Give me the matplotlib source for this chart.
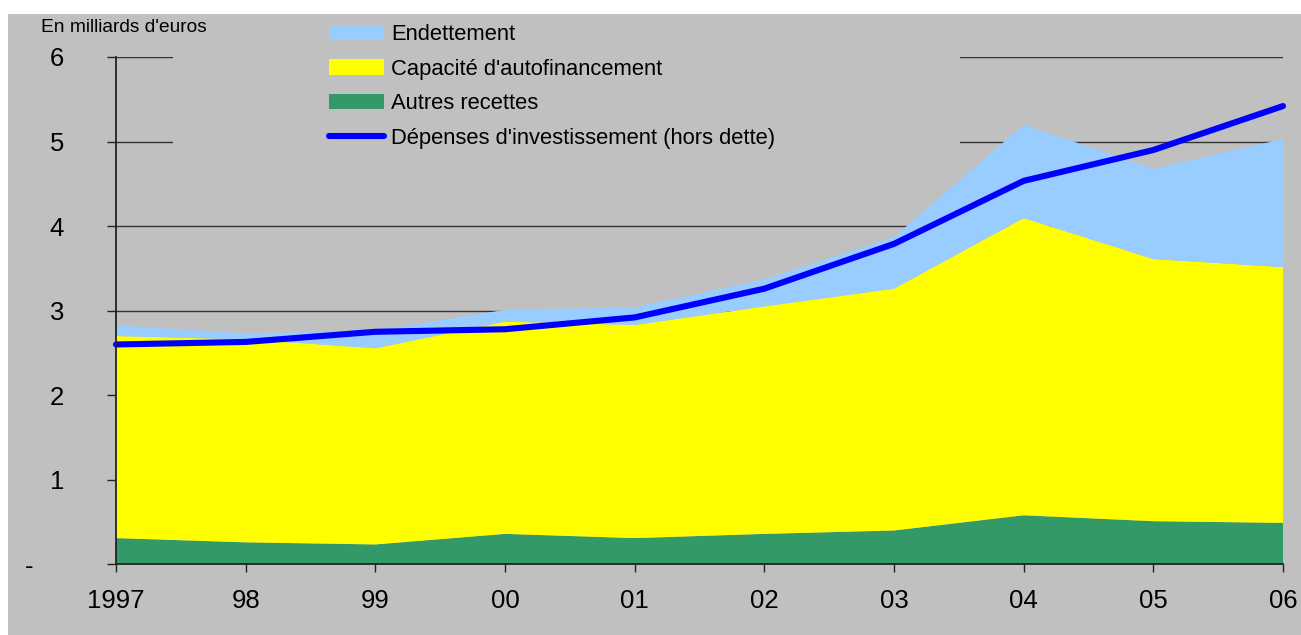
import matplotlib
matplotlib.use("Agg")
import matplotlib.pyplot as plt
from matplotlib.patches import Rectangle, Patch
from matplotlib.lines import Line2D

plt.rcParams['font.family'] = ['Liberation Sans', 'DejaVu Sans']

# ---- data (milliards d'euros) ----
years = ["1997", "98", "99", "00", "01", "02", "03", "04", "05", "06"]
autres_recettes = [0.31, 0.26, 0.235, 0.36, 0.31, 0.36, 0.40, 0.58, 0.51, 0.49]
capacite_autofin = [2.39, 2.40, 2.32, 2.51, 2.52, 2.69, 2.86, 3.515, 3.10, 3.025]
endettement = [0.13, 0.07, 0.205, 0.14, 0.21, 0.32, 0.61, 1.105, 1.07, 1.515]
depenses_invest = [2.60, 2.63, 2.75, 2.78, 2.92, 3.26, 3.79, 4.535, 4.90, 5.42]
ytick_vals = [0, 1, 2, 3, 4, 5, 6]
ytick_labels = ["", "1", "2", "3", "4", "5", "6"]

C_GRAY = "#C0C0C0"
C_BLUE_L = "#99CCFF"
C_YELLOW = "#FFFF00"
C_GREEN = "#339966"
C_LINE = "#0000FF"

W, H = 1301, 635
fig = plt.figure(figsize=(W / 100, H / 100), dpi=100, facecolor="white")
fig.patches.append(Rectangle((8 / W, 0), 1 - 8 / W, (H - 14) / H,
                             transform=fig.transFigure, facecolor=C_GRAY,
                             edgecolor="none", zorder=-10))

left, right, top, bottom = 116, 1283, 57, 564.3
ax = fig.add_axes([left / W, (H - bottom) / H, (right - left) / W, (bottom - top) / H])
ax.set_facecolor("none")

x = list(range(len(years)))
ax.stackplot(x, autres_recettes, capacite_autofin, endettement,
             colors=[C_GREEN, C_YELLOW, C_BLUE_L], linewidth=0, zorder=1)
ax.plot(x, depenses_invest, color=C_LINE, lw=4.4, solid_capstyle="round",
        solid_joinstyle="round", zorder=3, clip_on=False)

ax.set_xlim(0, len(years) - 1)
ax.set_ylim(0, 6)
ax.set_xticks(x)
ax.set_xticklabels(years, fontsize=18.5)
ax.set_yticks(ytick_vals)
ax.set_yticklabels(ytick_labels, fontsize=18.5)
ax.tick_params(axis="y", length=6.5, width=1, color="#222222", pad=31)
ax.tick_params(axis="x", length=6, width=1, color="#222222", pad=12)

ax.set_axisbelow(True)
ax.yaxis.grid(True, color="#333333", lw=1.0)
ax.xaxis.grid(False)
for s in ["top", "right"]:
    ax.spines[s].set_visible(False)
for s in ["left", "bottom"]:
    ax.spines[s].set_color("#222222")
    ax.spines[s].set_linewidth(1.3)
    ax.spines[s].set_zorder(4)

# zero label shown as "-"
fig.text(33 / W, 1 - bottom / H, "-", fontsize=18.5, ha="right", va="center_baseline")

# gray block behind the legend hiding the grid lines
ph = bottom - top
ax.add_patch(Rectangle(((173 - left) / (right - left), (bottom - 165) / ph),
                       (960 - 173) / (right - left), (165 - 14) / ph,
                       transform=ax.transAxes, facecolor=C_GRAY, edgecolor="none",
                       zorder=0.8, clip_on=False))

fig.text(41 / W, 1 - 28 / H, "En milliards d'euros", fontsize=13.8,
         ha="left", va="center")

handles = [
    Patch(facecolor=C_BLUE_L, edgecolor="none"),
    Patch(facecolor=C_YELLOW, edgecolor="none"),
    Patch(facecolor=C_GREEN, edgecolor="none"),
    Line2D([0], [0], color=C_LINE, lw=4.4, solid_capstyle="round"),
]
labels = ["Endettement", "Capacité d'autofinancement", "Autres recettes",
          "Dépenses d'investissement (hors dette)"]
fig.legend(handles, labels, loc="upper left", bbox_to_anchor=(329 / W, 1 - 24 / H),
           frameon=False, fontsize=15.8, borderpad=0, borderaxespad=0,
           handlelength=2.5, handleheight=0.7, handletextpad=0.33,
           labelspacing=0.62)

fig.savefig("out.png", dpi=100, facecolor="white")
